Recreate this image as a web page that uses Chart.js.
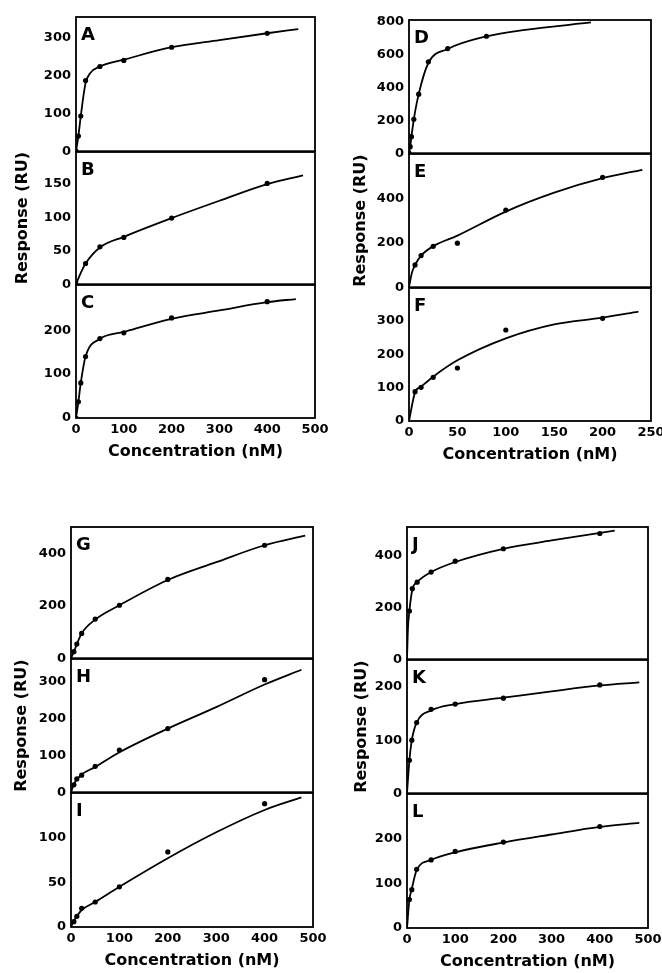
<!DOCTYPE html>
<html>
<head>
<meta charset="utf-8">
<script src="https://cdn.jsdelivr.net/npm/chart.js@4.4.0/dist/chart.umd.min.js"></script>
<style>
    body { margin: 0; background: #fff; width: 662px; height: 973px; position: relative; overflow: hidden; }
    canvas { position: absolute; }
</style>
</head>
<body>
<script>
var concA = [0, 5, 10, 20, 50, 100, 200, 400]
var respA = [0, 40, 93, 187, 224, 240, 275, 312]
var fitConcA = [0, 5, 10, 20, 30, 50, 100, 200, 300, 400, 465]
var fitRespA = [0, 40, 93, 180, 207, 224, 242, 275, 294, 312, 323]

var concB = [0, 20, 50, 100, 200, 400]
var respB = [0, 31, 56, 70, 99, 151]
var fitConcB = [0, 10, 20, 50, 100, 200, 300, 400, 475]
var fitRespB = [0, 17, 31, 55, 71, 99, 125, 150, 163]

var concC = [0, 5, 10, 20, 50, 100, 200, 400]
var respC = [0, 37, 80, 140, 181, 194, 228, 265]
var fitConcC = [0, 5, 10, 20, 50, 100, 200, 300, 400, 460]
var fitRespC = [0, 37, 80, 140, 180, 196, 226, 245, 264, 271]

var concD = [0, 1.25, 2.5, 5, 10, 20, 40, 80]
var respD = [0, 40, 101, 207, 360, 557, 638, 713]
var fitConcD = [0, 1.25, 2.5, 5, 10, 20, 40, 80, 120, 188]
var fitRespD = [0, 40, 101, 207, 360, 550, 635, 712, 752, 797]

var concE = [6.25, 12.5, 25, 50, 100, 200]
var respE = [100, 142, 184, 198, 347, 494]
var fitConcE = [0, 3, 6.25, 12.5, 25, 50, 100, 150, 200, 241]
var fitRespE = [0, 65, 100, 142, 184, 232, 340, 425, 490, 528]

var concF = [6.25, 12.5, 25, 50, 100, 200]
var respF = [88, 101, 131, 159, 273, 308]
var fitConcF = [0, 6.25, 12.5, 25, 50, 100, 150, 200, 237]
var fitRespF = [0, 86, 103, 133, 182, 248, 290, 310, 328]

var concG = [6, 12, 22, 50, 100, 200, 400]
var respG = [25, 54, 95, 150, 203, 302, 433]
var fitConcG = [0, 6, 12, 22, 50, 100, 200, 300, 400, 484]
var fitRespG = [0, 25, 54, 95, 148, 203, 300, 368, 433, 470]

var concH = [6, 12, 22, 50, 100, 200, 400]
var respH = [20, 36, 46, 70, 114, 172, 304]
var fitConcH = [0, 6, 12, 22, 50, 100, 200, 300, 400, 476]
var fitRespH = [0, 22, 34, 48, 68, 108, 172, 230, 291, 331]

var concI = [6, 12, 22, 50, 100, 200, 400]
var respI = [6, 12, 21, 28, 45, 84, 138]
var fitConcI = [0, 6, 12, 22, 50, 100, 200, 300, 400, 476]
var fitRespI = [0, 7, 12, 19, 28, 45, 77, 106, 131, 145]

var concJ = [5, 11, 21, 50, 100, 200, 400]
var respJ = [186, 272, 297, 336, 378, 426, 485]
var fitConcJ = [0, 2, 5, 11, 21, 50, 100, 200, 300, 431]
var fitRespJ = [0, 120, 186, 268, 297, 336, 375, 426, 458, 496]

var concK = [5, 10, 20, 50, 100, 200, 400]
var respK = [62, 100, 133, 158, 168, 179, 204]
var fitConcK = [0, 5, 10, 20, 50, 100, 200, 300, 400, 482]
var fitRespK = [0, 62, 100, 133, 156, 168, 180, 192, 203, 209]

var concL = [5, 10, 20, 50, 100, 200, 400]
var respL = [64, 86, 132, 153, 172, 193, 228]
var fitConcL = [0, 5, 10, 20, 50, 100, 200, 300, 400, 482]
var fitRespL = [0, 64, 88, 130, 153, 170, 192, 210, 227, 236]

// tick labels
var xTicks500 = [0, 100, 200, 300, 400, 500]
var xTicks250 = [0, 50, 100, 150, 200, 250]
var yTicksA = [0, 100, 200, 300]
var yTicksB = [0, 50, 100, 150]
var yTicksC = [0, 100, 200]
var yTicksD = [0, 200, 400, 600, 800]
var yTicksE = [0, 200, 400]
var yTicksF = [0, 100, 200, 300]
var yTicksG = [0, 200, 400]
var yTicksH = [0, 100, 200, 300]
var yTicksI = [0, 50, 100]
var yTicksJ = [0, 200, 400]
var yTicksK = [0, 100, 200]
var yTicksL = [0, 100, 200]

var FONT = 'DejaVu Sans'
var AXIS_W = 70   // room left of the plot for y labels / title
var PAD_TOP = 20
var PAD_RIGHT = 20

// plot rectangle in page pixels + axis ranges for each panel
var panels = [
    { letter: 'A', conc: concA, resp: respA, fc: fitConcA, fr: fitRespA, xt: xTicks500, yt: yTicksA, l: 76, r: 315, t: 17, b: 152, xmax: 500, ymax: 355 },
    { letter: 'B', conc: concB, resp: respB, fc: fitConcB, fr: fitRespB, xt: xTicks500, yt: yTicksB, l: 76, r: 315, t: 152, b: 285, xmax: 500, ymax: 198, ytitle: 7.4 },
    { letter: 'C', conc: concC, resp: respC, fc: fitConcC, fr: fitRespC, xt: xTicks500, yt: yTicksC, l: 76, r: 315, t: 285, b: 418, xmax: 500, ymax: 303, xtitle: true },
    { letter: 'D', conc: concD, resp: respD, fc: fitConcD, fr: fitRespD, xt: xTicks250, yt: yTicksD, l: 409, r: 651, t: 20, b: 154, xmax: 250, ymax: 812 },
    { letter: 'E', conc: concE, resp: respE, fc: fitConcE, fr: fitRespE, xt: xTicks250, yt: yTicksE, l: 409, r: 651, t: 154, b: 288, xmax: 250, ymax: 599, ytitle: 12.4 },
    { letter: 'F', conc: concF, resp: respF, fc: fitConcF, fr: fitRespF, xt: xTicks250, yt: yTicksF, l: 409, r: 651, t: 288, b: 421, xmax: 250, ymax: 399, xtitle: true },
    { letter: 'G', conc: concG, resp: respG, fc: fitConcG, fr: fitRespG, xt: xTicks500, yt: yTicksG, l: 71, r: 313, t: 527, b: 659, xmax: 500, ymax: 503 },
    { letter: 'H', conc: concH, resp: respH, fc: fitConcH, fr: fitRespH, xt: xTicks500, yt: yTicksH, l: 71, r: 313, t: 659, b: 793, xmax: 500, ymax: 360, ytitle: 11.4 },
    { letter: 'I', conc: concI, resp: respI, fc: fitConcI, fr: fitRespI, xt: xTicks500, yt: yTicksI, l: 71, r: 313, t: 793, b: 927, xmax: 500, ymax: 150, xtitle: true },
    { letter: 'J', conc: concJ, resp: respJ, fc: fitConcJ, fr: fitRespJ, xt: xTicks500, yt: yTicksJ, l: 407, r: 648, t: 527, b: 660, xmax: 500, ymax: 510 },
    { letter: 'K', conc: concK, resp: respK, fc: fitConcK, fr: fitRespK, xt: xTicks500, yt: yTicksK, l: 407, r: 648, t: 660, b: 794, xmax: 500, ymax: 251, ytitle: 15.4 },
    { letter: 'L', conc: concL, resp: respL, fc: fitConcL, fr: fitRespL, xt: xTicks500, yt: yTicksL, l: 407, r: 648, t: 794, b: 928, xmax: 500, ymax: 301, xtitle: true }
]

var xy = function (xs, ys) {
    return xs.map(function (x, i) { return { x: x, y: ys[i] } })
}

var asTicks = function (list) {
    return list.map(function (v) { return { value: v } })
}

// frame around the plot + the panel letter
var boxPlugin = {
    id: 'box',
    afterDatasetsDraw: function (chart, args, opts) {
        var a = chart.chartArea
        var ctx = chart.ctx
        ctx.save()
        ctx.strokeStyle = '#000'
        ctx.lineWidth = 1.8
        ctx.strokeRect(a.left, a.top, a.right - a.left, a.bottom - a.top)
        ctx.fillStyle = '#000'
        ctx.font = 'bold 18px "' + FONT + '"'
        ctx.textBaseline = 'alphabetic'
        ctx.fillText(opts.letter, a.left + 5, a.top + 23)
        ctx.restore()
    }
}

var tickFont = { family: FONT, weight: 'bold', size: 13 }
var titleFont = { family: FONT, weight: 'bold', size: 16 }

panels.forEach(function (p) {
    var axisH = p.xtitle ? 52 : 12
    var canvas = document.createElement('canvas')
    canvas.width = (p.r - p.l) + AXIS_W + PAD_RIGHT
    canvas.height = (p.b - p.t) + PAD_TOP + axisH
    canvas.style.left = (p.l - AXIS_W) + 'px'
    canvas.style.top = (p.t - PAD_TOP) + 'px'
    document.body.appendChild(canvas)

    new Chart(canvas.getContext('2d'), {
        type: 'scatter',
        plugins: [boxPlugin],
        data: {
            datasets: [{
                data: xy(p.fc, p.fr),
                showLine: true,
                borderColor: '#000',
                borderWidth: 1.8,
                pointRadius: 0,
                cubicInterpolationMode: 'monotone',
                fill: false
            }, {
                data: xy(p.conc, p.resp),
                pointRadius: 2.6,
                backgroundColor: '#000',
                borderColor: '#000',
                borderWidth: 0
            }]
        },
        options: {
            responsive: false,
            animation: false,
            events: [],
            layout: { padding: { left: 0, top: PAD_TOP, right: PAD_RIGHT, bottom: 0 } },
            plugins: {
                legend: { display: false },
                tooltip: { enabled: false },
                box: { letter: p.letter }
            },
            scales: {
                x: {
                    type: 'linear',
                    min: 0,
                    max: p.xmax,
                    grid: { display: false, drawTicks: false },
                    border: { display: false },
                    afterBuildTicks: function (s) { s.ticks = asTicks(p.xt) },
                    ticks: {
                        display: !!p.xtitle,
                        color: '#000',
                        font: tickFont,
                        padding: 4,
                        maxRotation: 0,
                        autoSkip: false
                    },
                    title: {
                        display: !!p.xtitle,
                        text: 'Concentration (nM)',
                        color: '#000',
                        font: titleFont,
                        padding: { top: 0, bottom: 9 }
                    },
                    afterFit: function (s) { s.height = axisH }
                },
                y: {
                    type: 'linear',
                    min: 0,
                    max: p.ymax,
                    grid: { display: false, drawTicks: false },
                    border: { display: false },
                    afterBuildTicks: function (s) { s.ticks = asTicks(p.yt) },
                    ticks: {
                        color: '#000',
                        font: tickFont,
                        padding: 5,
                        autoSkip: false
                    },
                    title: {
                        display: p.ytitle !== undefined,
                        text: 'Response (RU)',
                        color: '#000',
                        font: titleFont,
                        padding: { top: p.ytitle || 0, bottom: 0 }
                    },
                    afterFit: function (s) { s.width = AXIS_W }
                }
            }
        }
    })
})
</script>
</body>
</html>
